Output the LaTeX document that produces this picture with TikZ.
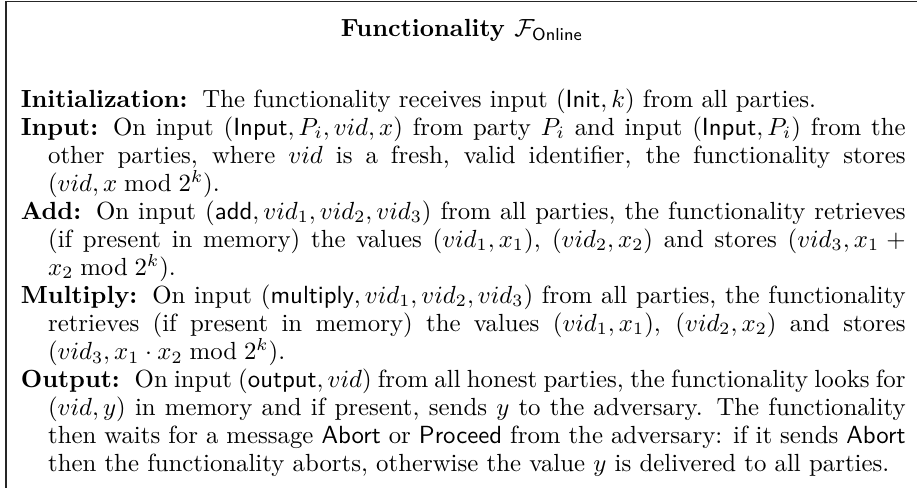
\documentclass[tikz,border=0pt]{standalone}
\usepackage{tikz}
\newcommand{\cmd}[1]{\textsf{#1}}
\newcommand{\entry}[1]{\par\hangindent=11pt\hangafter=1\noindent\textbf{#1}\hspace{6pt}\ignorespaces}

\begin{document}
\begin{tikzpicture}[x=1pt, y=1pt, line width=.6pt]
    \useasboundingbox (0,0) rectangle (369.8,-196.8);

    % Rahmen.
    \coordinate (framebl) at (2.4,-205);
    \coordinate (frametr) at (380,-0.6);
    \draw[color=black!85] (framebl) |- (frametr);

    % Titel.
    \node[anchor=base] (title) at (186.3,-14.9)
        {\textbf{Functionality $\mathcal{F}_{\mathsf{Online}}$}};

    % Text.
    \node[anchor=north west, text width=356.8pt, align=justify, inner sep=0pt,
          font=\fontsize{10}{11.3}\selectfont] (body) at (8.1,-31.6) {%
        \entry{Initialization:} The functionality receives input $(\cmd{Init}, k)$ from all parties.
        \entry{Input:} On input $(\cmd{Input}, P_i, vid, x)$ from party $P_i$ and input $(\cmd{Input}, P_i)$ from the\linebreak
            other parties, where $vid$ is a fresh, valid identifier, the functionality stores\linebreak
            $(vid, x \bmod 2^k)$.
        \entry{Add:} On input $(\cmd{add}, vid_1, vid_2, vid_3)$ from all parties, the functionality retrieves\linebreak
            (if present in memory) the values $(vid_1, x_1)$, $(vid_2, x_2)$ and stores $(vid_3, x_1 +\linebreak
            x_2 \bmod 2^k)$.
        \entry{Multiply:} On input $(\cmd{multiply}, vid_1, vid_2, vid_3)$ from all parties, the functionality\linebreak
            retrieves (if present in memory) the values $(vid_1, x_1)$, $(vid_2, x_2)$ and stores\linebreak
            $(vid_3, x_1 \cdot x_2 \bmod 2^k)$.
        \entry{Output:} On input $(\cmd{output}, vid)$ from all honest parties, the functionality looks for\linebreak
            $(vid, y)$ in memory and if present, sends $y$ to the adversary. The functionality\linebreak
            then waits for a message \cmd{Abort} or \cmd{Proceed} from the adversary: if it sends \cmd{Abort}\linebreak
            then the functionality aborts, otherwise the value $y$ is delivered to all parties.\par
    };
\end{tikzpicture}
\end{document}
